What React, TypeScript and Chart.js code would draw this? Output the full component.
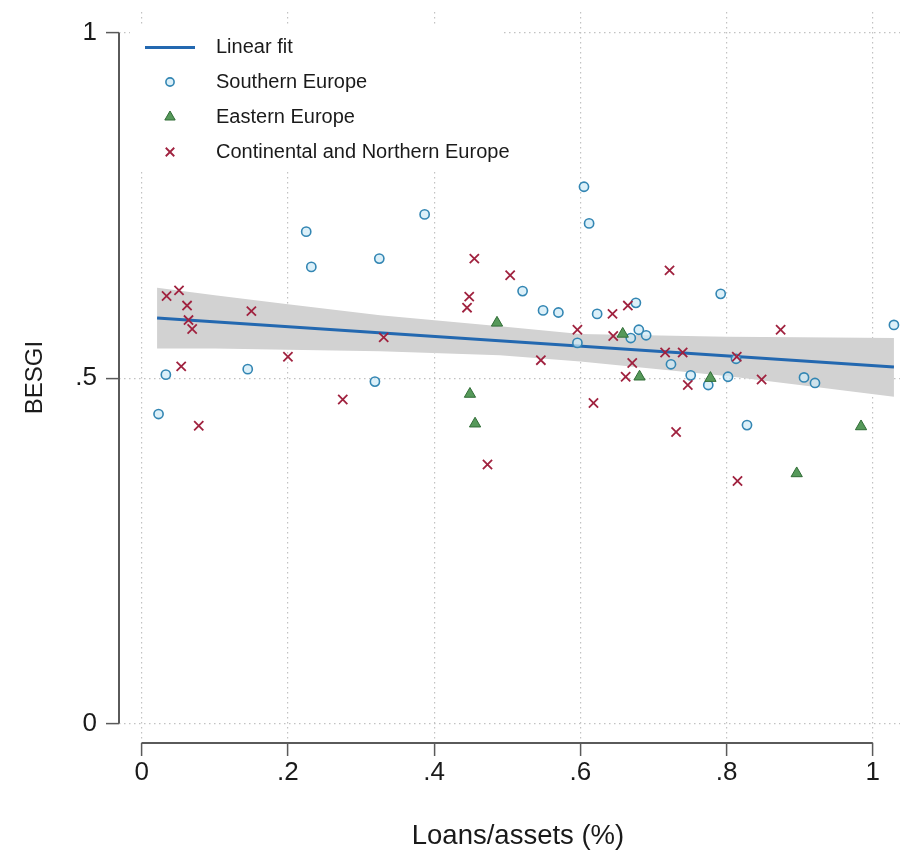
import React, { useEffect, useRef } from "react";
import { Chart, registerables } from "chart.js";
import { drawPoint } from "chart.js/helpers";

Chart.register(...registerables);

// ---------- data ----------
const seriesNames = ["Linear fit", "Southern Europe", "Eastern Europe", "Continental and Northern Europe"];
const xTitle = "Loans/assets (%)";
const yTitle = "BESGI";

const xTicks = [0, 0.2, 0.4, 0.6, 0.8, 1];
const xTickLabels = ["0", ".2", ".4", ".6", ".8", "1"];
const yTicks = [0, 0.5, 1];
const yTickLabels = ["0", ".5", "1"];

const southernX = [0.023, 0.033, 0.145, 0.225, 0.232, 0.319, 0.325, 0.387, 0.521, 0.549, 0.570, 0.596, 0.605, 0.612, 0.623, 0.669, 0.676, 0.680, 0.690, 0.724, 0.751, 0.775, 0.792, 0.802, 0.813, 0.828, 0.906, 0.921, 1.029];
const southernY = [0.448, 0.505, 0.513, 0.712, 0.661, 0.495, 0.673, 0.737, 0.626, 0.598, 0.595, 0.551, 0.777, 0.724, 0.593, 0.558, 0.609, 0.570, 0.562, 0.520, 0.504, 0.490, 0.622, 0.502, 0.528, 0.432, 0.501, 0.493, 0.577];

const easternX = [0.449, 0.456, 0.486, 0.658, 0.681, 0.778, 0.896, 0.984];
const easternY = [0.477, 0.434, 0.580, 0.564, 0.502, 0.500, 0.362, 0.430];

const continentalX = [0.034, 0.051, 0.062, 0.064, 0.069, 0.054, 0.078, 0.150, 0.200, 0.275, 0.331, 0.455, 0.448, 0.445, 0.473, 0.504, 0.546, 0.596, 0.618, 0.644, 0.645, 0.665, 0.662, 0.671, 0.722, 0.716, 0.740, 0.747, 0.731, 0.814, 0.848, 0.874, 0.815];
const continentalY = [0.619, 0.627, 0.605, 0.584, 0.571, 0.517, 0.431, 0.597, 0.531, 0.469, 0.559, 0.673, 0.618, 0.602, 0.375, 0.649, 0.526, 0.570, 0.464, 0.593, 0.561, 0.605, 0.502, 0.522, 0.656, 0.537, 0.537, 0.490, 0.422, 0.531, 0.498, 0.570, 0.351];

const fitX = [0.021, 1.029];
const fitY = [0.587, 0.516];

const bandX = [0.021, 0.1, 0.2, 0.326, 0.49, 0.6, 0.8, 0.9, 1.029];
const bandUpper = [0.631, 0.620, 0.607, 0.591, 0.575, 0.564, 0.560, 0.559, 0.558];
const bandLower = [0.543, 0.543, 0.541, 0.539, 0.533, 0.524, 0.503, 0.490, 0.473];

// ---------- styles ----------
const FONT = "'Liberation Sans', Arial, Helvetica, sans-serif";
const TEXT_COLOR = "#1a1a1a";
const AXIS_COLOR = "#5a5a5a";
const GRID_COLOR = "#c2c2c2";
const FIT_COLOR = "#2368b0";
const BAND_COLOR = "#d2d2d2";
const SOUTH_BORDER = "#3386b3";
const SOUTH_FILL = "rgba(205,234,246,0.7)";
const EAST_FILL = "#56995a";
const EAST_BORDER = "#306c36";
const CONT_COLOR = "#a0223f";

const pts = (xs: number[], ys: number[]) => xs.map((x, i) => ({ x, y: ys[i] }));

// Stata-style axis lines spanning only first..last tick, plus x-axis title
const stataAxes = {
  id: "stataAxes",
  afterDraw(chart: any) {
    const { ctx, chartArea } = chart;
    const xs = chart.scales.x;
    const ys = chart.scales.y;
    ctx.save();
    ctx.strokeStyle = AXIS_COLOR;
    ctx.lineWidth = 2;
    ctx.setLineDash([]);
    ctx.beginPath();
    ctx.moveTo(xs.getPixelForValue(xTicks[0]), chartArea.bottom);
    ctx.lineTo(xs.getPixelForValue(xTicks[xTicks.length - 1]), chartArea.bottom);
    ctx.moveTo(chartArea.left, ys.getPixelForValue(yTicks[0]));
    ctx.lineTo(chartArea.left, ys.getPixelForValue(yTicks[yTicks.length - 1]));
    ctx.stroke();
    // x-axis title
    ctx.fillStyle = TEXT_COLOR;
    ctx.font = `27.5px ${FONT}`;
    ctx.textAlign = "center";
    ctx.textBaseline = "alphabetic";
    ctx.fillText(xTitle, (chartArea.left + chartArea.right) / 2 + 8.5, chartArea.bottom + 101);
    ctx.restore();
  },
};

// Legend drawn inside the plot region (white box, top-left)
const insideLegend = {
  id: "insideLegend",
  afterDatasetsDraw(chart: any) {
    const { ctx, chartArea } = chart;
    const ds = chart.data.datasets;
    const left = chartArea.left + 11;
    const top = chartArea.top + 13;
    const boxW = 373;
    const boxH = 147;
    ctx.save();
    ctx.fillStyle = "#ffffff";
    ctx.fillRect(left, top, boxW, boxH);
    const symX = left + 40;
    const textX = left + 86;
    const rowY = [top + 22.5, top + 57, top + 92, top + 127];
    const fit = ds[2];
    ctx.strokeStyle = fit.borderColor;
    ctx.lineWidth = fit.borderWidth;
    ctx.beginPath();
    ctx.moveTo(symX - 25, rowY[0]);
    ctx.lineTo(symX + 25, rowY[0]);
    ctx.stroke();
    [3, 4, 5].forEach((di, k) => {
      const d = ds[di];
      ctx.fillStyle = d.backgroundColor;
      ctx.strokeStyle = d.borderColor;
      ctx.lineWidth = d.borderWidth;
      drawPoint(ctx, { pointStyle: d.pointStyle, rotation: 0, radius: d.pointRadius - 0.5, borderWidth: d.borderWidth }, symX, rowY[k + 1]);
    });
    ctx.fillStyle = TEXT_COLOR;
    ctx.font = `20px ${FONT}`;
    ctx.textAlign = "left";
    ctx.textBaseline = "middle";
    seriesNames.forEach((n, i) => ctx.fillText(n, textX, rowY[i]));
    ctx.restore();
  },
};

export default function App() {
  const ref = useRef<HTMLCanvasElement>(null);
  useEffect(() => {
    const chart = new Chart(ref.current as HTMLCanvasElement, {
      type: "scatter",
      data: {
        datasets: [
          {
            type: "line",
            label: "CI lower",
            data: pts(bandX, bandLower),
            borderWidth: 0,
            pointRadius: 0,
            fill: false,
            order: 3,
          } as any,
          {
            type: "line",
            label: "CI upper",
            data: pts(bandX, bandUpper),
            borderWidth: 0,
            pointRadius: 0,
            backgroundColor: BAND_COLOR,
            fill: "-1",
            order: 3,
          },
          {
            type: "line",
            label: seriesNames[0],
            data: pts(fitX, fitY),
            borderColor: FIT_COLOR,
            borderWidth: 3,
            pointRadius: 0,
            fill: false,
            order: 2,
          },
          {
            label: seriesNames[1],
            data: pts(southernX, southernY),
            pointStyle: "circle",
            pointRadius: 4.6,
            borderWidth: 1.6,
            borderColor: SOUTH_BORDER,
            backgroundColor: SOUTH_FILL,
            order: 1.2,
          },
          {
            label: seriesNames[2],
            data: pts(easternX, easternY),
            pointStyle: "triangle",
            pointRadius: 6.5,
            borderWidth: 1,
            borderColor: EAST_BORDER,
            backgroundColor: EAST_FILL,
            order: 1.1,
          },
          {
            label: seriesNames[3],
            data: pts(continentalX, continentalY),
            pointStyle: "crossRot",
            pointRadius: 6.5,
            borderWidth: 1.8,
            borderColor: CONT_COLOR,
            backgroundColor: CONT_COLOR,
            order: 1.0,
          },
        ],
      },
      options: {
        animation: false,
        responsive: true,
        maintainAspectRatio: false,
        events: [],
        layout: { autoPadding: false, padding: { top: 12, right: 2, left: 0, bottom: 0 } },
        plugins: {
          legend: { display: false },
          tooltip: { enabled: false },
        },
        scales: {
          x: {
            type: "linear",
            min: -0.0311,
            max: 1.0373,
            afterBuildTicks: (s: any) => {
              s.ticks = xTicks.map((v) => ({ value: v }));
            },
            afterFit: (s: any) => {
              s.height = 109;
              s.paddingLeft = 0;
              s.paddingRight = 0;
            },
            ticks: {
              autoSkip: false,
              maxRotation: 0,
              padding: 1,
              color: TEXT_COLOR,
              font: { family: FONT, size: 26 },
              callback: (_v: any, i: number) => xTickLabels[i],
            },
            grid: {
              color: GRID_COLOR,
              lineWidth: 1.2,
              tickColor: AXIS_COLOR,
              tickWidth: 1.5,
              tickLength: 13,
              tickBorderDash: [],
            },
            border: { display: false, dash: [1.5, 3.5] },
            title: { display: false, text: xTitle },
          },
          y: {
            type: "linear",
            min: -0.0282,
            max: 1.03,
            afterBuildTicks: (s: any) => {
              s.ticks = yTicks.map((v) => ({ value: v }));
            },
            afterFit: (s: any) => {
              s.width = 119;
              s.paddingTop = 0;
              s.paddingBottom = 0;
            },
            ticks: {
              autoSkip: false,
              padding: 9,
              color: TEXT_COLOR,
              font: { family: FONT, size: 26 },
              callback: (_v: any, i: number) => yTickLabels[i],
            },
            grid: {
              color: GRID_COLOR,
              lineWidth: 1.2,
              tickColor: AXIS_COLOR,
              tickWidth: 1.5,
              tickLength: 13,
              tickBorderDash: [],
            },
            border: { display: false, dash: [1.5, 3.5] },
            title: {
              display: true,
              text: yTitle,
              color: TEXT_COLOR,
              font: { family: FONT, size: 24 },
              padding: { top: 21, bottom: 0 },
            },
          },
        },
      },
      plugins: [stataAxes, insideLegend],
    } as any);
    return () => chart.destroy();
  }, []);
  return (
    <div style={{ position: "fixed", left: 0, top: 0, width: 902, height: 852, background: "#ffffff" }}>
      <canvas ref={ref} />
    </div>
  );
}
